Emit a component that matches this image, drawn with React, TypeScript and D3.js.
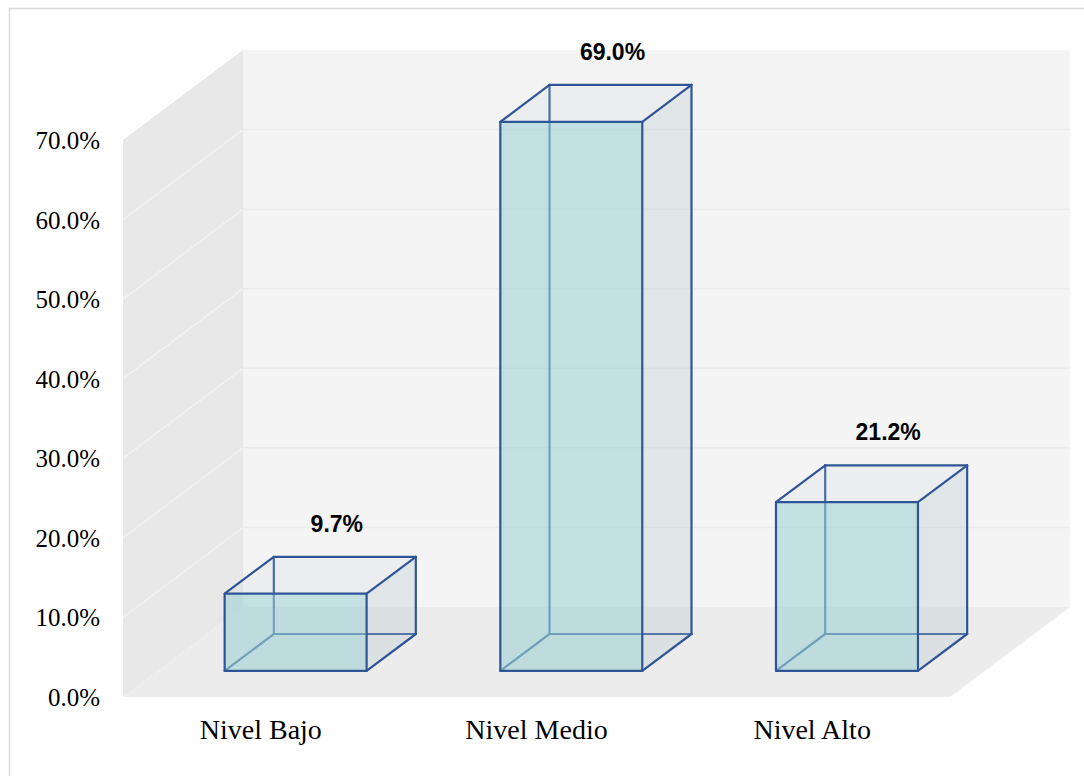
import React from "react";
import * as d3 from "d3";

// Chart data
const categories: string[] = ["Nivel Bajo", "Nivel Medio", "Nivel Alto"];
const values: number[] = [0.097, 0.69, 0.212];
const yTicks: number[] = [0, 0.1, 0.2, 0.3, 0.4, 0.5, 0.6, 0.7];

const W = 1084;
const H = 776;

// Front plane of the 3D box and its oblique depth vector
const FRONT_LEFT = 123;
const FRONT_RIGHT = 950;
const FRONT_BOTTOM = 697;
const FRONT_TOP = 140;
const DEPTH_X = 120;
const DEPTH_Y = -90;
const BAR_Z0 = 0.29;
const BAR_Z1 = 0.7;

const pct = d3.format(".1%");

const x = d3
  .scaleBand<string>()
  .domain(categories)
  .range([FRONT_LEFT, FRONT_RIGHT])
  .paddingInner(0.485)
  .paddingOuter(0.2425);

const y = d3.scaleLinear().domain([0, 0.7]).range([FRONT_BOTTOM, FRONT_TOP]);

// project a point (x on front plane, value, depth 0..1) to screen
const P = (px: number, v: number, z: number): [number, number] => [
  px + DEPTH_X * z,
  y(v) + DEPTH_Y * z,
];

const poly = (pts: [number, number][]) =>
  pts.map((p) => `${p[0].toFixed(2)},${p[1].toFixed(2)}`).join(" ");

const EDGE = "#2f5597";
const EDGE_W = 2.2;

const line = (a: [number, number], b: [number, number], key: string) => (
  <line key={key} x1={a[0]} y1={a[1]} x2={b[0]} y2={b[1]} stroke={EDGE} strokeWidth={EDGE_W} strokeLinecap="round" />
);

function Bar({ cat, v }: { cat: string; v: number }) {
  const x0 = x(cat)!;
  const x1 = x0 + x.bandwidth();
  // front face corners
  const fbl = P(x0, 0, BAR_Z0);
  const fbr = P(x1, 0, BAR_Z0);
  const ftl = P(x0, v, BAR_Z0);
  const ftr = P(x1, v, BAR_Z0);
  // back face corners
  const bbl = P(x0, 0, BAR_Z1);
  const bbr = P(x1, 0, BAR_Z1);
  const btl = P(x0, v, BAR_Z1);
  const btr = P(x1, v, BAR_Z1);
  return (
    <g>
      {/* hidden edges, seen through translucent faces */}
      {line(bbl, btl, "h1")}
      {line(bbl, bbr, "h2")}
      {line(fbl, bbl, "h3")}
      {/* faces */}
      <polygon points={poly([fbr, bbr, btr, ftr])} fill="rgba(180,195,205,0.3)" />
      <polygon points={poly([ftl, ftr, btr, btl])} fill="rgba(200,210,220,0.2)" />
      <polygon points={poly([fbl, fbr, ftr, ftl])} fill="rgba(160,210,212,0.6)" />
      {/* visible edges */}
      <polygon points={poly([fbl, fbr, ftr, ftl])} fill="none" stroke={EDGE} strokeWidth={EDGE_W} strokeLinejoin="round" />
      {line(ftl, btl, "v1")}
      {line(btl, btr, "v2")}
      {line(ftr, btr, "v3")}
      {line(btr, bbr, "v4")}
      {line(fbr, bbr, "v5")}
    </g>
  );
}

export default function App() {
  const backWall = poly([P(FRONT_LEFT, 0.7, 1), P(FRONT_RIGHT, 0.7, 1), P(FRONT_RIGHT, 0, 1), P(FRONT_LEFT, 0, 1)]);
  const sideWall = poly([P(FRONT_LEFT, 0.7, 0), P(FRONT_LEFT, 0.7, 1), P(FRONT_LEFT, 0, 1), P(FRONT_LEFT, 0, 0)]);
  const floor = poly([P(FRONT_LEFT, 0, 0), P(FRONT_RIGHT, 0, 0), P(FRONT_RIGHT, 0, 1), P(FRONT_LEFT, 0, 1)]);

  return (
    <svg
      width={W}
      height={H}
      viewBox={`0 0 ${W} ${H}`}
      style={{ position: "absolute", left: 0, top: 0, background: "#ffffff" }}
    >
      <rect x={9.5} y={8.5} width={W} height={H} fill="#ffffff" stroke="#d9d9d9" strokeWidth={1.5} />

      {/* walls and floor */}
      <polygon points={backWall} fill="#f4f4f4" />
      <polygon points={sideWall} fill="#e8e8e8" />
      <polygon points={floor} fill="#ececec" />

      {/* gridlines */}
      {yTicks.slice(1, -1).map((t) => {
        const a = P(FRONT_LEFT, t, 0);
        const b = P(FRONT_LEFT, t, 1);
        const c = P(FRONT_RIGHT, t, 1);
        return (
          <g key={t}>
            <line x1={a[0]} y1={a[1]} x2={b[0]} y2={b[1]} stroke="#f2f2f2" strokeWidth={1.5} />
            <line x1={b[0]} y1={b[1]} x2={c[0]} y2={c[1]} stroke="#ebebeb" strokeWidth={1.5} />
          </g>
        );
      })}

      {/* y axis labels */}
      {yTicks.map((t) => (
        <text
          key={t}
          x={100}
          y={y(t) + 9}
          textAnchor="end"
          fontFamily="'Liberation Serif', 'Times New Roman', serif"
          fontSize={25}
          fill="#000"
        >
          {pct(t)}
        </text>
      ))}

      {/* bars */}
      {categories.map((c, i) => (
        <Bar key={c} cat={c} v={values[i]} />
      ))}

      {/* value labels */}
      {categories.map((c, i) => {
        const cx = x(c)! + x.bandwidth() / 2;
        const p = P(cx, values[i], BAR_Z1);
        return (
          <text
            key={c}
            x={p[0] - 8}
            y={p[1] - 25}
            textAnchor="middle"
            fontFamily="'Liberation Sans', Arial, sans-serif"
            fontWeight="bold"
            fontSize={23}
            fill="#000"
          >
            {pct(values[i])}
          </text>
        );
      })}

      {/* category labels */}
      {categories.map((c) => (
        <text
          key={c}
          x={x(c)! + x.bandwidth() / 2}
          y={739}
          textAnchor="middle"
          fontFamily="'Liberation Serif', 'Times New Roman', serif"
          fontSize={28}
          fill="#000"
        >
          {c}
        </text>
      ))}
    </svg>
  );
}
